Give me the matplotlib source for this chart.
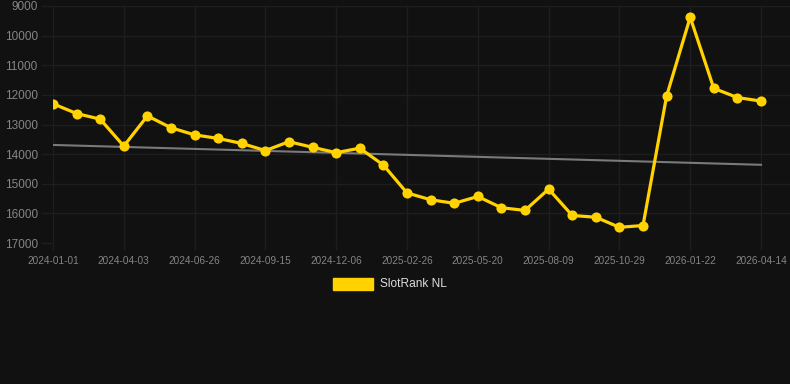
import matplotlib
matplotlib.use("Agg")
import matplotlib.pyplot as plt
from matplotlib.patches import Rectangle

# ── Datos ─────────────────────────────────────────────────────────────────────
rank = [12300, 12630, 12820, 13730, 12710, 13110, 13350, 13470, 13640, 13880,
        13580, 13770, 13950, 13800, 14370, 15310, 15540, 15660, 15430, 15810,
        15900, 15180, 16070, 16130, 16470, 16410, 12040, 9380, 11780, 12090,
        12210]
tick_labels = ["2024-01-01", "2024-04-03", "2024-06-26", "2024-09-15",
               "2024-12-06", "2025-02-26", "2025-05-20", "2025-08-09",
               "2025-10-29", "2026-01-22", "2026-04-14"]
trend_start, trend_end = 13690, 14360
y_ticks = [9000, 10000, 11000, 12000, 13000, 14000, 15000, 16000, 17000]

BG = "#111111"
GRID = "#1e1e1e"
YELLOW = "#ffd200"
TXT = "#858585"

plt.rcParams["font.family"] = ["Liberation Sans", "DejaVu Sans"]

W, H = 790, 384
fig = plt.figure(figsize=(W / 100, H / 100), dpi=100, facecolor=BG)
ax = fig.add_axes([53 / W, 1 - 243 / H, (W - 53) / W, (243 - 6) / H])
ax.set_facecolor(BG)

x = list(range(len(rank)))
ax.plot([x[0], x[-1]], [trend_start, trend_end], color="#7a7a7a", lw=1.5, zorder=2)
ax.plot(x, rank, color=YELLOW, lw=2.3, marker="o", markersize=7.3,
        markeredgewidth=0, zorder=3)

ax.set_ylim(17000, 9000)
ax.set_xlim(0, 30 + 29 / 23.6)
ax.set_yticks(y_ticks)
ax.set_xticks(range(0, len(rank), 3))
ax.set_xticklabels(tick_labels)

for s in ax.spines.values():
    s.set_visible(False)
ax.grid(True, color=GRID, lw=1)
ax.tick_params(axis="y", colors=GRID, labelcolor=TXT, labelsize=8.5,
               length=9, width=1, pad=2)
ax.tick_params(axis="x", colors=GRID, labelcolor=TXT, labelsize=7.2,
               length=5, width=1, pad=4)

# Leyenda
fig.patches.append(Rectangle((333 / W, 1 - 290 / H), 40 / W, 12 / H,
                             transform=fig.transFigure, color=YELLOW))
fig.text(380 / W, 1 - 284 / H, "SlotRank NL", color="#dddddd", fontsize=8.6,
         va="center", ha="left")

fig.savefig("out.png", dpi=100, facecolor=BG)
